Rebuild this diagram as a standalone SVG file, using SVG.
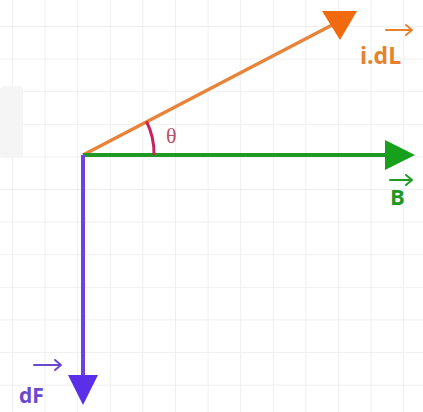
<svg xmlns="http://www.w3.org/2000/svg" width="423" height="412" viewBox="0 0 423 412">
  <defs>
    <pattern id="grid" x="12" y="26" width="32.6" height="32.6" patternUnits="userSpaceOnUse">
      <path d="M0 0 V32.6 M0 0 H32.6" fill="none" stroke="#ececec" stroke-width="1.6"/>
    </pattern>
  </defs>
  <style>
    .lbl { font-family: "Open Sans", "Liberation Sans", sans-serif; font-weight: 700; }
    .ov { fill: none; stroke-width: 2; stroke-linecap: round; stroke-linejoin: round; }
  </style>
  <rect width="423" height="412" fill="#ffffff"/>
  <rect width="423" height="412" fill="url(#grid)"/>
  <rect x="0" y="86" width="23" height="72" rx="4" fill="#f5f5f5"/>

  <g id="connectors">
    <line x1="83" y1="155" x2="334" y2="24" stroke="#e8843a" stroke-width="3.5"/>
    <line x1="83" y1="155" x2="390" y2="155" stroke="#1e9a24" stroke-width="4"/>
    <line x1="83" y1="155" x2="83" y2="380" stroke="#6a44e0" stroke-width="4"/>
  </g>

  <g id="idL">
    <polygon points="357,11 322,11 340,40" fill="#f26a10"/>
    <text class="lbl" x="360" y="64" font-size="23" fill="#e8802e">i.dL</text>
    <path class="ov" d="M386 30 H412 M406 25 L412 30 L406 35" stroke="#e8802e"/>
  </g>

  <g id="B">
    <polygon points="415,155 385,140 385,170" fill="#16a01c"/>
    <text class="lbl" x="390" y="205" font-size="22" fill="#1e9a24">B</text>
    <path class="ov" d="M390 180 H412 M406 175 L412 180 L406 185" stroke="#1e9a24"/>
  </g>

  <g id="dF">
    <polygon points="83,405 68,375 98,375" fill="#5b2ee8"/>
    <text class="lbl" x="19" y="403" font-size="21" fill="#6a48d0">dF</text>
    <path class="ov" d="M34 365 H61 M55 360 L61 365 L55 370" stroke="#6a48d0"/>
  </g>

  <g id="theta">
    <path d="M146.5 121.5 A71 71 0 0 1 154 155" fill="none" stroke="#c8245a" stroke-width="3"/>
    <text x="166" y="143" font-family="Liberation Serif, serif" font-size="22" fill="#b8506e">θ</text>
  </g>
</svg>
